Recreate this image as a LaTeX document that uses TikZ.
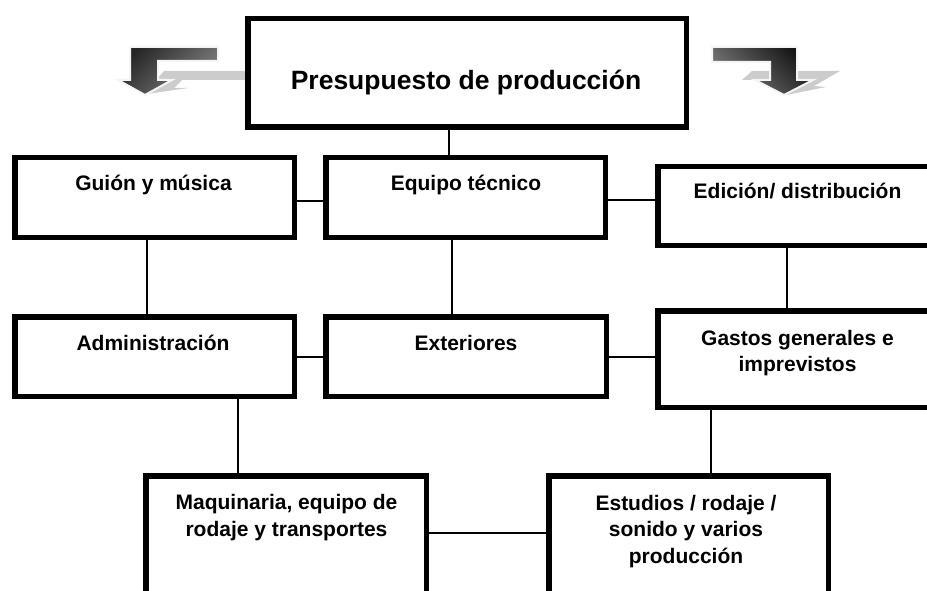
\documentclass[tikz,border=0pt]{standalone}
\usepackage{fontspec}
\setmainfont{Liberation Sans}
\begin{document}
\begin{tikzpicture}[x=1pt,y=-1pt,
  box/.style={rectangle,draw=black,line width=5.5pt,fill=white,inner sep=0pt,outer sep=0pt},
  conn/.style={draw=black,line width=1.3pt},
  lbl/.style={font=\bfseries\fontsize{21}{26.5}\selectfont,align=center,anchor=base,inner sep=0pt},
  lblbig/.style={font=\bfseries\fontsize{26.5}{30}\selectfont,align=center,anchor=base,inner sep=0pt},
  lightarrow/.style={fill=black!20,draw=none},
  halo/.style={draw=black!4,line width=2pt,line join=miter}
]
\useasboundingbox (0,0) rectangle (927,591);
\clip (0,0) rectangle (927,591);
\fill[white] (0,0) rectangle (927,591);

% decorative bent arrows
\fill[lightarrow] (250,71) -- (164,71) -- (156,80) -- (166,80) -- (147,94) -- (188,88) -- (174,88) -- (182,80) -- (250,80) -- cycle;
\shade[halo,top color=black!85,bottom color=black!48,shading angle=45]
  (218,47) -- (130,47) -- (130,80) -- (118,80) -- (145,95) -- (172,80) -- (158,80) -- (158,61) -- (218,61) -- cycle;
\fill[lightarrow] (742,80) -- (752,71) -- (840,71) -- (814,86) -- (826,87) -- (786,95) -- (800,80) -- cycle;
\shade[halo,top color=black!92,bottom color=black!50,shading angle=-45]
  (712,47) -- (797,47) -- (797,80) -- (813,80) -- (784,95) -- (755,80) -- (770,80) -- (770,62) -- (712,62) -- cycle;

% boxes
\node[box,minimum width=438.5pt,minimum height=108.5pt] (top) at (467,73) {};
\node[box,minimum width=279.5pt,minimum height=79.5pt] (gm) at (154.5,197.5) {};
\node[box,minimum width=279.5pt,minimum height=79.5pt] (eq) at (465.5,197.5) {};
\node[box,minimum width=279.5pt,minimum height=78.5pt] (ed) at (797.5,206) {};
\node[box,minimum width=279.5pt,minimum height=79.5pt] (ad) at (154.5,356.5) {};
\node[box,minimum width=280.5pt,minimum height=79.5pt] (ex) at (466,356.5) {};
\node[box,minimum width=279.5pt,minimum height=96.5pt] (ga) at (797.5,359) {};
\node[box,minimum width=280.5pt,minimum height=161.5pt] (ma) at (286,556.5) {};
\node[box,minimum width=279.5pt,minimum height=161.5pt] (es) at (688.5,556.5) {};

% connectors
\draw[conn] ([xshift=-18pt]top.south) -- ([xshift=-16.5pt]eq.north);
\draw[conn] ([yshift=-3.5pt]gm.east) -- ([yshift=-3.5pt]eq.west);
\draw[conn] ([yshift=-2.5pt]eq.east) -- ([yshift=6pt]ed.west);
\draw[conn] ([xshift=-7.5pt]gm.south) -- ([xshift=-7.5pt]ad.north);
\draw[conn] ([xshift=-13.5pt]eq.south) -- ([xshift=-14pt]ex.north);
\draw[conn] ([xshift=-10.5pt]ed.south) -- ([xshift=-10.5pt]ga.north);
\draw[conn] ([yshift=-0.5pt]ad.east) -- ([yshift=-0.5pt]ex.west);
\draw[conn] ([yshift=-0.5pt]ex.east) -- ([yshift=2pt]ga.west);
\draw[conn] ([xshift=83.5pt]ad.south) -- ([xshift=-48pt]ma.north);
\draw[conn] ([xshift=-86.5pt]ga.south) -- ([xshift=22.5pt]es.north);
\draw[conn] ([yshift=23.5pt]ma.east) -- ([yshift=23.5pt]es.west);

% labels (base anchor = baseline of last line)
\node[lblbig] (ttop) at (466,90) {Presupuesto de producción};
\node[lbl] (tgm) at (153.5,190) {Guión y música};
\node[lbl] (teq) at (466,190) {Equipo técnico};
\node[lbl] (ted) at (797.5,199) {Edición/ distribución};
\node[lbl] (tad) at (153,350) {Administración};
\node[lbl] (tex) at (466,350) {Exteriores};
\node[lbl] (tga) at (797.5,371.5) {Gastos generales e\\imprevistos};
\node[lbl] (tma) at (286.5,536) {Maquinaria, equipo de\\rodaje y transportes};
\node[lbl] (tes) at (686,563) {Estudios / rodaje /\\sonido y varios\\producción};
\end{tikzpicture}
\end{document}
